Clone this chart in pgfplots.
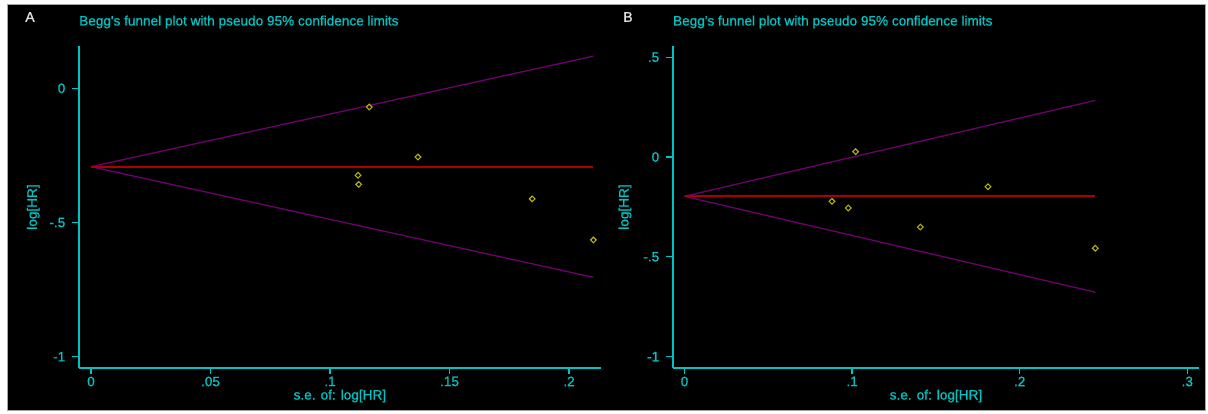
\documentclass[border=0pt]{standalone}
\usepackage{pgfplots}
\pgfplotsset{compat=1.18}
\usepackage{fontspec}
\setmainfont{Liberation Sans}
\newfontfamily\statafont[FakeBold=0.9]{Liberation Sans}
\definecolor{stc}{RGB}{0,195,195}
\definecolor{funp}{RGB}{110,0,110}
\definecolor{redl}{RGB}{170,0,0}
\definecolor{mk}{RGB}{180,180,0}
\definecolor{lbl}{RGB}{225,225,225}
\newcommand{\sfont}{\statafont\fontsize{13.6}{16}\selectfont}
\pgfplotsset{
  stata/.style={
    scale only axis,
    height=322pt,
    axis x line*=bottom, axis y line*=left,
    axis line style={-, stc, line width=1.6pt},
    tick align=outside,
    major tick length=6.5pt,
    tick style={stc, line width=1.2pt},
    ticklabel style={font=\sfont, text=stc},
    yticklabel style={inner sep=0pt, xshift=-7pt},
    xticklabel style={inner sep=0pt, yshift=-2pt},
    label style={font=\sfont, text=stc},
    xlabel style={at={(axis description cs:0.5,-0.087)}, anchor=center},
    title style={font=\sfont, text=stc, at={(axis description cs:0,1.056)}, anchor=west, inner sep=0pt},
    clip=false,
    title={Begg\textquotesingle s funnel plot with pseudo 95\% confidence limits},
    xlabel={s.e. of: log[HR]},
    ylabel={log[HR]},
  },
  funnel/.style={funp, line width=1.3pt},
  pooled/.style={redl, line width=2pt},
  pts/.style={only marks, mark=square, mark size=2pt, mark options={mk, line width=1.1pt, fill=none, rotate=45}},
}
\begin{document}
\begin{tikzpicture}
\useasboundingbox (0pt,0pt) rectangle (1208pt,414pt);
\fill[white] (0pt,0pt) rectangle (1208pt,414pt);
\filldraw[fill=black, draw=gray!70, line width=1pt] (7pt,3pt) rectangle (1205pt,409pt);
\node[text=lbl, font=\statafont\fontsize{14}{16}\selectfont] at (30pt,397pt) {A};
\node[text=lbl, font=\statafont\fontsize{14}{16}\selectfont] at (628pt,397pt) {B};

% Panel A
\begin{axis}[stata,
  at={(79pt,46pt)}, anchor=south west,
  width=521.7pt,
  xmin=-0.00502, xmax=0.21326,
  ymin=-1.042, ymax=0.1576,
  xtick={0,0.05,0.1,0.15,0.2}, xticklabels={0,.05,.1,.15,.2},
  ytick={-1,-0.5,0}, yticklabels={-1,-.5,0},
  ylabel style={at={(axis description cs:-0.0876,0.5)}, anchor=center},
]
\addplot[funnel] coordinates {(0,-0.2921) (0.2102,0.1199)};
\addplot[funnel] coordinates {(0,-0.2921) (0.2102,-0.7041)};
\addplot[pooled] coordinates {(0,-0.2921) (0.2102,-0.2921)};
\addplot[pts] coordinates {
(0.1164,-0.0697)
(0.1368,-0.256)
(0.1117,-0.324)
(0.1120,-0.358)
(0.1846,-0.412)
(0.2102,-0.565)
};
\end{axis}

% Panel B
\begin{axis}[stata,
  at={(672.9pt,46pt)}, anchor=south west,
  width=526.1pt,
  xmin=-0.00692, xmax=0.3070,
  ymin=-1.0571, ymax=0.5561,
  xtick={0,0.1,0.2,0.3}, xticklabels={0,.1,.2,.3},
  ytick={-1,-0.5,0,0.5}, yticklabels={-1,-.5,0,.5},
  ylabel style={at={(axis description cs:-0.091,0.5)}, anchor=center},
]
\addplot[funnel] coordinates {(0,-0.197) (0.2451,0.2834)};
\addplot[funnel] coordinates {(0,-0.197) (0.2451,-0.6774)};
\addplot[pooled] coordinates {(0,-0.197) (0.2451,-0.197)};
\addplot[pts] coordinates {
(0.1021,0.0266)
(0.1811,-0.149)
(0.0880,-0.222)
(0.0977,-0.2555)
(0.1407,-0.351)
(0.2451,-0.457)
};
\end{axis}
\end{tikzpicture}
\end{document}
